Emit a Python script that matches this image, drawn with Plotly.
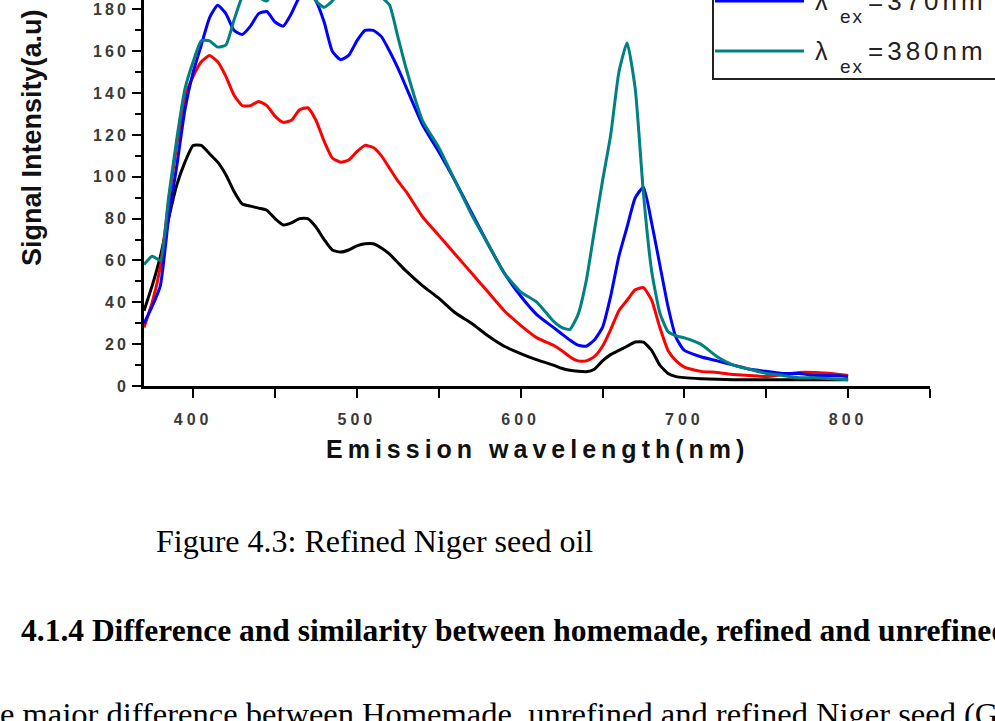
import plotly.graph_objects as go

# ---------------- data ----------------
wavelength = [370, 375, 380, 385, 390, 395, 400, 405, 410, 415, 420, 425, 430, 435, 440,
              445, 450, 455, 460, 465, 470, 475, 480, 485, 490, 495, 500, 505, 510, 515,
              520, 525, 530, 540, 550, 560, 570, 580, 590, 600, 610, 620, 625, 630, 635,
              640, 645, 650, 655, 660, 665, 670, 675, 680, 685, 690, 695, 700, 710, 720,
              730, 740, 750, 760, 770, 780, 790, 800]

black_350 = [36, 48, 62, 80, 96, 107, 115, 115, 111, 107, 101, 93, 87, 86, 85,
             84, 80, 77, 78, 80, 80, 76, 70, 65, 64, 65, 67, 68, 68, 66,
             63, 59, 55, 48, 42, 35, 30, 24, 19, 15.5, 12.5, 10, 8.5, 7.5, 7,
             6.8, 8, 12, 15, 17, 19, 21, 21, 17, 10, 6, 4.5, 4, 3.5, 3.2,
             3, 3, 3, 3, 3, 3, 3, 3]

red_360 = [28, 40, 57, 88, 115, 138, 148, 155, 158, 155, 148, 139, 134, 134, 136,
           134, 129, 126, 127, 132, 133, 127, 117, 109, 107, 108, 112, 115, 114, 110,
           104, 98, 93, 81, 72, 63, 54, 45, 36, 29, 23, 19.5, 17, 14, 12,
           12, 14, 19, 27, 36, 41, 46, 47, 41, 28, 17, 12, 9, 7, 6.5,
           5.5, 5, 4.5, 5.5, 6.5, 6.5, 6, 5]

blue_370 = [30, 38, 48, 80, 105, 132, 150, 163, 176, 182, 178, 170, 168, 172, 178,
            179, 174, 172, 178, 186, 189, 184, 174, 160, 156, 158, 165, 170, 170, 167,
            160, 152, 143, 125, 112, 98, 83, 68, 54, 43, 34, 28, 25, 22, 19.5,
            19, 22, 28, 43, 62, 76, 90, 95, 78, 58, 38, 23, 17, 14, 12,
            10, 8, 7, 6, 6, 5, 5, 4.5]

green_380 = [58, 62, 60, 90, 118, 142, 155, 165, 165, 162, 163, 175, 186, 190, 186,
             184, 190, 196, 198, 196, 192, 184, 181, 184, 190, 194, 195, 194, 190, 186,
             182, 167, 152, 127, 114, 98, 82, 68, 54, 45, 40, 31, 28, 27, 34,
             50, 74, 98, 120, 150, 164, 142, 92, 55, 35, 26, 24, 23, 20, 14,
             10, 8, 6, 5, 4, 4, 3.5, 3]

series_names = ["λex=350nm", "λex=360nm", "λex=370nm", "λex=380nm"]
series_colors = ["#000000", "#ff0000", "#0000ff", "#008080"]
series_values = [black_350, red_360, blue_370, green_380]

x_tick_vals = [400, 500, 600, 700, 800]
x_tick_text = ["400", "500", "600", "700", "800"]
y_tick_vals = [0, 20, 40, 60, 80, 100, 120, 140, 160, 180]
y_tick_text = ["0", "20", "40", "60", "80", "100", "120", "140", "160", "180"]

legend_labels = ["=370nm", "=380nm"]
legend_colors = ["#0000ff", "#008080"]

x_title = "Emission wavelength(nm)"
y_title = "Signal Intensity(a.u)"
caption = "Figure 4.3: Refined Niger seed oil"
heading = "4.1.4 Difference and similarity between homemade, refined and unrefined"
body = "e major difference between Homemade, unrefined and refined Niger seed (G"

# ---------------- layout geometry (pixels) ----------------
W, H = 995, 721
L, R, T, B = 144, 930, 0, 386  # plot area edges in px


def px2x(px):
    return (px - L) / (R - L)


def py2y(py):
    return (B - py) / (B - T)


def spaced(t, sp):
    return "<span style='letter-spacing:%dpx'>%s</span>" % (sp, t)


fig = go.Figure()
for name, color, vals in zip(series_names, series_colors, series_values):
    fig.add_trace(go.Scatter(
        x=wavelength, y=vals, mode="lines", name=name,
        line=dict(color=color, width=3, shape="spline", smoothing=0.5),
        showlegend=False, hoverinfo="skip"))

tick_font = dict(family="Liberation Sans, Arial, sans-serif", size=16, color="#3a3a3a")

fig.update_xaxes(
    range=[370, 850], showline=True, linewidth=3, linecolor="black",
    ticks="outside", ticklen=9, tickwidth=2, tickcolor="black",
    tickmode="array", tickvals=x_tick_vals,
    ticktext=[spaced("<b>%s</b>" % t, 4) for t in x_tick_text],
    tickfont=tick_font, ticklabelstandoff=8, showgrid=False, zeroline=False,
    minor=dict(ticks="outside", ticklen=9, tickwidth=2, tickcolor="black",
               tickmode="linear", tick0=400, dtick=50, showgrid=False))

fig.update_yaxes(
    range=[0, 184.5], showline=True, linewidth=3, linecolor="black",
    ticks="outside", ticklen=9, tickwidth=2, tickcolor="black",
    tickmode="array", tickvals=y_tick_vals,
    ticktext=[spaced("<b>%s</b>" % t, 3) for t in y_tick_text],
    tickfont=tick_font, showgrid=False, zeroline=False,
    minor=dict(ticks="outside", ticklen=6, tickwidth=2, tickcolor="black",
               tickmode="linear", tick0=0, dtick=10, showgrid=False))

annotations = []
shapes = []

# axis titles
annotations.append(dict(
    text="<b>%s</b>" % spaced(x_title, 5), xref="paper", yref="paper",
    x=px2x(537), y=py2y(449), xanchor="center", yanchor="middle", showarrow=False,
    font=dict(family="Liberation Sans, Arial, sans-serif", size=25, color="#111111")))
annotations.append(dict(
    text="<b>%s</b>" % y_title, xref="paper", yref="paper", textangle=-90,
    x=px2x(32), y=py2y(138), xanchor="center", yanchor="middle", showarrow=False,
    font=dict(family="Liberation Sans, Arial, sans-serif", size=27, color="#111111")))

# legend box (partially outside the cropped picture)
shapes.append(dict(type="rect", xref="paper", yref="paper",
                   x0=px2x(713), x1=px2x(1010), y0=py2y(79), y1=py2y(-40),
                   line=dict(color="#222222", width=2), fillcolor="rgba(0,0,0,0)"))
for i, (lab, col) in enumerate(zip(legend_labels, legend_colors)):
    base = 10 + 50 * i
    shapes.append(dict(type="line", xref="paper", yref="paper",
                       x0=px2x(715), x1=px2x(804), y0=py2y(base - 9), y1=py2y(base - 9),
                       line=dict(color=col, width=3)))
    annotations.append(dict(text="λ", xref="paper", yref="paper",
                            x=px2x(813), y=py2y(base - 0.3465 * 25), xanchor="left",
                            yanchor="middle", showarrow=False,
                            font=dict(family="Liberation Sans, Arial, sans-serif", size=25, color="#222222")))
    annotations.append(dict(text=spaced("ex", 2), xref="paper", yref="paper",
                            x=px2x(838), y=py2y(base + 13 - 0.3465 * 19), xanchor="left",
                            yanchor="middle", showarrow=False,
                            font=dict(family="Liberation Sans, Arial, sans-serif", size=19, color="#222222")))
    annotations.append(dict(text=spaced(lab, 4), xref="paper", yref="paper",
                            x=px2x(866), y=py2y(base - 0.3465 * 26), xanchor="left",
                            yanchor="middle", showarrow=False,
                            font=dict(family="Liberation Sans, Arial, sans-serif", size=26, color="#222222")))

# document text around the figure
serif = "Liberation Serif, Times New Roman, serif"
annotations.append(dict(text=caption, xref="paper", yref="paper",
                        x=px2x(154), y=py2y(551.7 - 0.3375 * 32), xanchor="left", yanchor="middle",
                        showarrow=False, font=dict(family=serif, size=32, color="black")))
annotations.append(dict(text="<b>%s</b>" % heading, xref="paper", yref="paper",
                        x=px2x(19), y=py2y(640.7 - 0.3375 * 31.5), xanchor="left", yanchor="middle",
                        showarrow=False, font=dict(family=serif, size=31.5, color="black")))
annotations.append(dict(text=body, xref="paper", yref="paper",
                        x=px2x(-2), y=py2y(724.5 - 0.3375 * 32.5), xanchor="left", yanchor="middle",
                        showarrow=False, font=dict(family=serif, size=32.5, color="black")))

fig.update_layout(
    width=W, height=H,
    margin=dict(l=L, r=W - R, t=T, b=H - B, autoexpand=False),
    paper_bgcolor="white", plot_bgcolor="white",
    showlegend=False,
    annotations=annotations, shapes=shapes,
)

fig.write_html("out.html", config={"displayModeBar": False},
               post_script="document.body.style.margin='0px';")
